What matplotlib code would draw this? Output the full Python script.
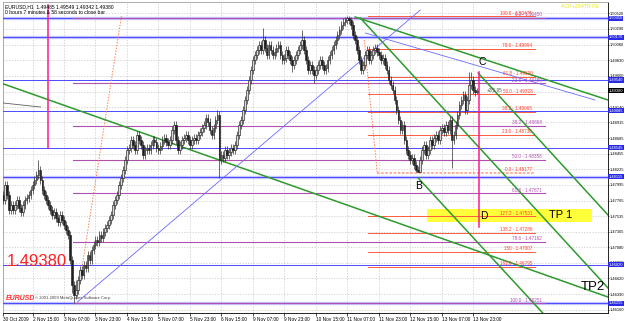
import matplotlib
matplotlib.use("Agg")
import matplotlib.pyplot as plt
from matplotlib.patches import Rectangle
import matplotlib.transforms as mtransforms

plt.rcParams['font.family'] = ['Liberation Sans', 'DejaVu Sans']

# ---------------- data ----------------
symbol_info = "EURUSD,H1  1.49485 1.49549 1.49342 1.49380"
timer_info = "0 hours 7 minutes & 58 seconds to close bar"
current_price = 1.49380
pip_note = ("+2(1.95", 246.0, 1.49392)

first_open = 1.4785
closes = [
 1.4777, 1.4799, 1.4785, 1.4763, 1.4770,
 1.4763, 1.4770, 1.4777, 1.4766, 1.4760, 1.4770, 1.4777, 1.4780, 1.4785, 1.4792,
 1.4799, 1.4807, 1.4814, 1.4822, 1.4807, 1.4792, 1.4785, 1.4777,
 1.4770, 1.4763, 1.4755, 1.4760, 1.4751, 1.4745, 1.4755, 1.4748, 1.4741, 1.4733, 1.4726,
 1.4689, 1.4652, 1.4638, 1.4645,
 1.4660, 1.4674, 1.4667, 1.4682, 1.4677, 1.4696, 1.4689,
 1.4704, 1.4711, 1.4719, 1.4716, 1.4726, 1.4722, 1.4730, 1.4736, 1.4741, 1.4748,
 1.4755, 1.4770, 1.4777, 1.4785, 1.4799, 1.4810, 1.4822, 1.4836, 1.4851, 1.4854,
 1.4866, 1.4858, 1.4851, 1.4873, 1.4866, 1.4858, 1.4844, 1.4851, 1.4854, 1.4851,
 1.4858, 1.4866, 1.4863, 1.4854, 1.4851, 1.4857, 1.4866, 1.4869, 1.4863, 1.4858, 1.4866,
 1.4880, 1.4888, 1.4866, 1.4851, 1.4858, 1.4866, 1.4869, 1.4873, 1.4866, 1.4858, 1.4866, 1.4869, 1.4866, 1.4873,
 1.4877, 1.4883, 1.4888, 1.4898, 1.4892, 1.4880, 1.4873, 1.4883, 1.4895, 1.4903,
 1.4836, 1.4844, 1.4839, 1.4851, 1.4844, 1.4848, 1.4854, 1.4851, 1.4858,
 1.4873, 1.4888, 1.4895, 1.4910, 1.4925, 1.4939, 1.4954, 1.4969, 1.4983, 1.4991, 1.4998,
 1.5006, 1.4998, 1.5013, 1.5001, 1.4991, 1.5006, 1.4998, 1.4991, 1.4995, 1.5001,
 1.5006, 1.4991, 1.4983, 1.4986, 1.4998, 1.4991, 1.4983, 1.4976, 1.4983, 1.4991,
 1.4998, 1.5006, 1.5013, 1.4998, 1.4983, 1.4969, 1.4976, 1.4969, 1.4961, 1.4969,
 1.4976, 1.4983, 1.4976, 1.4969, 1.4972, 1.4983, 1.4991, 1.4998, 1.5006, 1.5013,
 1.5020, 1.5028, 1.5035, 1.5039, 1.5042, 1.5045, 1.5042, 1.5035,
 1.5020, 1.5013, 1.4998, 1.4983, 1.4969, 1.4976, 1.4991, 1.4998, 1.4983, 1.4991, 1.4998, 1.5001,
 1.4995, 1.4991, 1.4983, 1.4986, 1.4976, 1.4969, 1.4954, 1.4947, 1.4939, 1.4925,
 1.4910, 1.4895, 1.4880, 1.4888, 1.4866, 1.4851, 1.4844, 1.4836, 1.4839, 1.4829, 1.4822, 1.4819,
 1.4836, 1.4851, 1.4858, 1.4844, 1.4851, 1.4866, 1.4858, 1.4869, 1.4873, 1.4866, 1.4880,
 1.4883, 1.4877, 1.4888, 1.4880, 1.4895, 1.4866, 1.4873, 1.4888,
 1.4903, 1.4917, 1.4925, 1.4932, 1.4910, 1.4925, 1.4947, 1.4954, 1.4939, 1.4936, 1.4938,
]
highs = [
 1.4791, 1.4805, 1.4805, 1.4791, 1.4776,
 1.4776, 1.4776, 1.4783, 1.4783, 1.4772, 1.4776, 1.4783, 1.4786, 1.4791, 1.4798,
 1.4805, 1.4813, 1.4820, 1.4836, 1.4828, 1.4813, 1.4798, 1.4791,
 1.4783, 1.4776, 1.4769, 1.4766, 1.4766, 1.4757, 1.4761, 1.4761, 1.4754, 1.4747, 1.4739,
 1.4732, 1.4695, 1.4658, 1.4660,
 1.4666, 1.4680, 1.4680, 1.4688, 1.4688, 1.4702, 1.4702,
 1.4710, 1.4717, 1.4725, 1.4725, 1.4732, 1.4732, 1.4736, 1.4742, 1.4747, 1.4754,
 1.4761, 1.4776, 1.4783, 1.4791, 1.4805, 1.4816, 1.4828, 1.4842, 1.4857, 1.4860,
 1.4872, 1.4872, 1.4864, 1.4879, 1.4879, 1.4872, 1.4864, 1.4857, 1.4860, 1.4860,
 1.4864, 1.4872, 1.4872, 1.4869, 1.4860, 1.4863, 1.4872, 1.4875, 1.4875, 1.4869, 1.4872,
 1.4886, 1.4894, 1.4894, 1.4872, 1.4864, 1.4872, 1.4875, 1.4879, 1.4879, 1.4872, 1.4872, 1.4875, 1.4875, 1.4879,
 1.4883, 1.4889, 1.4894, 1.4904, 1.4904, 1.4898, 1.4886, 1.4889, 1.4901, 1.4910,
 1.4909, 1.4850, 1.4850, 1.4857, 1.4857, 1.4854, 1.4860, 1.4860, 1.4864,
 1.4879, 1.4894, 1.4901, 1.4916, 1.4931, 1.4945, 1.4960, 1.4975, 1.4989, 1.4997, 1.5004,
 1.5012, 1.5012, 1.5030, 1.5019, 1.5007, 1.5012, 1.5012, 1.5004, 1.5001, 1.5007,
 1.5012, 1.5012, 1.4997, 1.4992, 1.5004, 1.5004, 1.4997, 1.4989, 1.4989, 1.4997,
 1.5004, 1.5012, 1.5028, 1.5019, 1.5004, 1.4989, 1.4982, 1.4982, 1.4975, 1.4975,
 1.4982, 1.4989, 1.4989, 1.4982, 1.4978, 1.4989, 1.4997, 1.5004, 1.5012, 1.5019,
 1.5026, 1.5034, 1.5041, 1.5045, 1.5046, 1.5048, 1.5048, 1.5046,
 1.5041, 1.5026, 1.5019, 1.5004, 1.4989, 1.4982, 1.4997, 1.5004, 1.5004, 1.4997, 1.5004, 1.5007,
 1.5007, 1.5001, 1.4997, 1.4992, 1.4992, 1.4982, 1.4975, 1.4960, 1.4953, 1.4945,
 1.4931, 1.4916, 1.4901, 1.4894, 1.4894, 1.4872, 1.4857, 1.4850, 1.4845, 1.4845, 1.4835, 1.4828,
 1.4842, 1.4857, 1.4864, 1.4864, 1.4857, 1.4872, 1.4872, 1.4875, 1.4879, 1.4879, 1.4886,
 1.4889, 1.4889, 1.4894, 1.4894, 1.4901, 1.4901, 1.4879, 1.4894,
 1.4909, 1.4923, 1.4931, 1.4938, 1.4938, 1.4931, 1.4966, 1.4966, 1.4960, 1.4945, 1.4942,
]
lows = [
 1.4771, 1.4771, 1.4779, 1.4757, 1.4757,
 1.4757, 1.4757, 1.4764, 1.4760, 1.4754, 1.4754, 1.4764, 1.4771, 1.4774, 1.4779,
 1.4786, 1.4793, 1.4801, 1.4808, 1.4801, 1.4786, 1.4779, 1.4771,
 1.4764, 1.4757, 1.4749, 1.4749, 1.4745, 1.4739, 1.4739, 1.4742, 1.4735, 1.4727, 1.4720,
 1.4683, 1.4640, 1.4626, 1.4632,
 1.4639, 1.4654, 1.4661, 1.4661, 1.4671, 1.4671, 1.4683,
 1.4683, 1.4698, 1.4705, 1.4710, 1.4710, 1.4716, 1.4716, 1.4724, 1.4730, 1.4735,
 1.4742, 1.4749, 1.4764, 1.4771, 1.4779, 1.4793, 1.4804, 1.4816, 1.4830, 1.4845,
 1.4848, 1.4852, 1.4845, 1.4845, 1.4860, 1.4852, 1.4838, 1.4838, 1.4845, 1.4845,
 1.4845, 1.4852, 1.4857, 1.4848, 1.4845, 1.4845, 1.4851, 1.4860, 1.4857, 1.4852, 1.4852,
 1.4860, 1.4874, 1.4860, 1.4845, 1.4845, 1.4852, 1.4860, 1.4863, 1.4860, 1.4852, 1.4852, 1.4860, 1.4860, 1.4860,
 1.4867, 1.4871, 1.4877, 1.4882, 1.4886, 1.4874, 1.4867, 1.4867, 1.4877, 1.4889,
 1.4810, 1.4830, 1.4833, 1.4833, 1.4838, 1.4838, 1.4842, 1.4845, 1.4845,
 1.4852, 1.4867, 1.4882, 1.4889, 1.4904, 1.4919, 1.4933, 1.4948, 1.4963, 1.4977, 1.4985,
 1.4992, 1.4992, 1.4992, 1.4995, 1.4985, 1.4985, 1.4992, 1.4985, 1.4985, 1.4989,
 1.4995, 1.4985, 1.4977, 1.4977, 1.4980, 1.4985, 1.4977, 1.4965, 1.4970, 1.4977,
 1.4985, 1.4992, 1.5000, 1.4992, 1.4977, 1.4963, 1.4963, 1.4963, 1.4950, 1.4955,
 1.4963, 1.4970, 1.4970, 1.4963, 1.4963, 1.4966, 1.4977, 1.4985, 1.4992, 1.5000,
 1.5007, 1.5014, 1.5022, 1.5029, 1.5033, 1.5036, 1.5036, 1.5029,
 1.5014, 1.5007, 1.4992, 1.4977, 1.4963, 1.4963, 1.4970, 1.4985, 1.4977, 1.4977, 1.4985, 1.4992,
 1.4989, 1.4985, 1.4977, 1.4977, 1.4970, 1.4963, 1.4948, 1.4941, 1.4933, 1.4919,
 1.4904, 1.4889, 1.4874, 1.4874, 1.4860, 1.4845, 1.4838, 1.4830, 1.4830, 1.4823, 1.4818, 1.4818,
 1.4818, 1.4830, 1.4845, 1.4838, 1.4838, 1.4845, 1.4852, 1.4852, 1.4863, 1.4860, 1.4860,
 1.4874, 1.4871, 1.4871, 1.4874, 1.4874, 1.4824, 1.4860, 1.4867,
 1.4882, 1.4897, 1.4911, 1.4919, 1.4904, 1.4904, 1.4919, 1.4941, 1.4933, 1.4930, 1.4934,
]

time_labels = ["30 Oct 2009", "2 Nov 15:00", "3 Nov 07:00", "3 Nov 23:00", "4 Nov 15:00",
               "5 Nov 07:00", "5 Nov 23:00", "6 Nov 15:00", "9 Nov 07:00", "9 Nov 23:00",
               "10 Nov 15:00", "11 Nov 07:00", "11 Nov 23:00", "12 Nov 15:00",
               "13 Nov 07:00", "13 Nov 23:00"]
time_label_bars = [0, 15, 31, 47, 63, 79, 95, 111, 127, 143, 159, 175, 191, 207, 223, 239]

price_ticks = [1.50520, 1.50290, 1.50060, 1.49830, 1.49600, 1.49370, 1.49140, 1.48915,
               1.48685, 1.48455, 1.48225, 1.47995, 1.47765, 1.47535, 1.47305, 1.47080,
               1.46850, 1.46620, 1.46390, 1.46160]

# horizontal support / resistance levels (blue)
hlines_blue = [1.50450, 1.50170, 1.49540, 1.49085, 1.48545, 1.48115, 1.46820, 1.46255]
hlines_blue_thick = [True, True, False, False, False, True, False, True]

# Fibonacci retracement 1 (purple)
fib1_levels = ["0.0", "23.6", "38.2", "50.0", "61.8", "78.6", "100.0"]
fib1_prices = [1.50450, 1.49489, 1.48868, 1.48358, 1.47871, 1.47162, 1.46251]
fib1_bars = [35.8, 275.5]
fib1_anchor_bars = [37.8, 60.2]
fib1_anchor_prices = [1.46346, 1.50481]

# Fibonacci retracement 2 / expansion (red)
fib2_levels = ["100.0", "78.6", "61.8", "50.0", "38.2", "23.6", "0.0", "127.2", "138.2", "150", "161.8"]
fib2_prices = [1.50475, 1.49994, 1.49590, 1.49328, 1.49065, 1.48730, 1.48177, 1.47531, 1.47286, 1.47007, 1.46795]
fib2_bars = [185.6, 270.5]
fib2_anchor_bars = [183.6, 190.2]
fib2_anchor_prices = [1.50128, 1.48177]

# trend lines: (bar0, price0, bar1, price1)
green_lines = [
    (0.27, 1.49481, 307.5, 1.46346),   # long falling support
    (179.0, 1.50466, 307.5, 1.49245),  # upper channel
    (181.6, 1.50452, 307.5, 1.46479),  # steep channel from the high
    (241.5, 1.49642, 307.5, 1.47553),  # steep channel from C
    (211.0, 1.48097, 278.1, 1.45993),  # steep channel from B
]
blue_lines = [
    (37.8, 1.46273, 212.1, 1.50569),
    (184.1, 1.50231, 300.9, 1.49245),
]
ma_line = (0.0, 1.49201, 19.1, 1.49142)

magenta_vlines = [(23.1, 1.48539, 1.50643), (242.0, 1.47376, 1.49657)]

tp_zone = (215.6, 299.4, 1.47450, 1.47641)

wave_labels = [("C", 243.5, 1.49804), ("B", 211.0, 1.47980), ("D", 244.6, 1.47538)]
tp_labels = [("TP 1", 283.2, 1.47553, 8), ("TP2", 299.9, 1.46493, 9.5)]

# ---------------- figure ----------------
W, H = 625, 321
fig = plt.figure(figsize=(W / 100, H / 100), dpi=100)
fig.patch.set_facecolor('white')
ax = fig.add_axes([3 / W, 8 / H, 605 / W, 311 / H])
ax.set_facecolor('white')
ax.set_xlim(0.27, 307.5)
ax.set_ylim(1.46111, 1.50687)

# grid / ticks
ax.set_xticks(time_label_bars)
ax.set_xticklabels(time_labels, ha='left')
ax.set_yticks(price_ticks)
ax.set_yticklabels([f"{p:.5f}" for p in price_ticks])
ax.yaxis.tick_right()
ax.tick_params(axis='x', labelsize=3.4, pad=1.2, length=2, width=0.5, colors='black')
ax.tick_params(axis='y', labelsize=2.9, pad=0.3, length=1.0, width=0.5, colors='black')
ax.grid(True, color='#c8c8c8', linestyle=(0, (2, 2)), linewidth=0.5)
ax.set_axisbelow(True)
for s in ['left', 'top']:
    ax.spines[s].set_color('#a0a0a0')
    ax.spines[s].set_linewidth(0.6)
for s in ['right', 'bottom']:
    ax.spines[s].set_color('black')
    ax.spines[s].set_linewidth(0.6)

# blue horizontal lines
for p, thick in zip(hlines_blue, hlines_blue_thick):
    if thick:
        ax.axhline(p, color='#c4c4ff', lw=2.4, zorder=2)
    ax.axhline(p, color='#4a4aff', lw=0.7, zorder=3)

# fib 1
for lvl, p in zip(fib1_levels, fib1_prices):
    ax.plot(fib1_bars, [p, p], color='#b050b0', lw=0.8, zorder=3)
    ax.text(fib1_bars[1] - 1.5, p + 0.00012, f"{lvl} - {p:.5f}", color='#b050b0',
            fontsize=3.3, ha='right', va='bottom', zorder=6)
ax.plot(fib1_anchor_bars, fib1_anchor_prices, color='#ff7f50', lw=0.7,
        linestyle=(0, (1.5, 1.5)), zorder=3)

# fib 2
for lvl, p in zip(fib2_levels, fib2_prices):
    if lvl == "0.0":
        ax.plot([fib2_anchor_bars[1], fib2_bars[1]], [p, p], color='#ffa080', lw=1.2,
                linestyle=(0, (1.5, 1.0)), zorder=3)
    else:
        ax.plot(fib2_bars, [p, p], color='#ff5a3c', lw=0.7, zorder=3)
    ax.text(fib2_bars[1] - 1.5, p + 0.00012, f"{lvl} - {p:.5f}", color='#ff3c28',
            fontsize=3.3, ha='right', va='bottom', zorder=6)
ax.plot(fib2_anchor_bars, fib2_anchor_prices, color='#ff7f50', lw=0.7,
        linestyle=(0, (1.5, 1.5)), zorder=3)

# TP zone
x0, x1, y0, y1 = tp_zone
ax.add_patch(Rectangle((x0, y0), x1 - x0, y1 - y0, facecolor='#ffff3a', edgecolor='none', zorder=2.5))

# trend lines
for b0, p0, b1, p1 in green_lines:
    ax.plot([b0, b1], [p0, p1], color='#2e9a2e', lw=1.1, zorder=4)
for b0, p0, b1, p1 in blue_lines:
    ax.plot([b0, b1], [p0, p1], color='#6a6aff', lw=0.6, zorder=4)
ax.plot([ma_line[0], ma_line[2]], [ma_line[1], ma_line[3]], color='#606060', lw=0.6, zorder=4)

for b, p0, p1 in magenta_vlines:
    ax.plot([b, b], [p0, p1], color='#ff1a8c', lw=1.1, zorder=4)

# candles
opens = [first_open] + closes[:-1]
for i, (o, h, l, c) in enumerate(zip(opens, highs, lows, closes)):
    ax.plot([i, i], [l, h], color='#303030', lw=0.5, zorder=5, solid_capstyle='butt')
    lo, hi = min(o, c), max(o, c)
    if hi - lo < 0.00004:
        hi = lo + 0.00004
    face = '#d8d8d8' if c >= o else '#202020'
    ax.add_patch(Rectangle((i - 0.42, lo), 0.84, hi - lo, facecolor=face,
                           edgecolor='#202020', lw=0.45, zorder=5.5))

# wave / target labels
for t, b, p in wave_labels:
    ax.text(b, p, t, fontsize=7.5, color='black', ha='center', va='center', zorder=7)
for t, b, p, fs in tp_labels:
    ax.text(b, p, t, fontsize=fs, color='black', ha='center', va='center', zorder=7)
ax.text(pip_note[1], pip_note[2], pip_note[0], fontsize=3.3, color='#505050',
        ha='left', va='center', zorder=7)

# highlighted price labels on the right axis
trans = mtransforms.blended_transform_factory(ax.transAxes, ax.transData)
for p in hlines_blue:
    ax.text(1.0012, p, f"{p:.5f}", transform=trans, fontsize=2.9, color='white',
            ha='left', va='center', clip_on=False, zorder=10,
            bbox=dict(boxstyle='square,pad=0.15', fc='#2a2ae6', ec='none'))
ax.text(1.0012, current_price, f"{current_price:.5f}", transform=trans, fontsize=2.9,
        color='white', ha='left', va='center', clip_on=False, zorder=10,
        bbox=dict(boxstyle='square,pad=0.15', fc='black', ec='none'))

# info texts
ax.text(0.003, 0.993, symbol_info, transform=ax.transAxes, fontsize=3.6, ha='left', va='top', zorder=8)
ax.text(0.003, 0.975, timer_info, transform=ax.transAxes, fontsize=3.6, ha='left', va='top', zorder=8)
ax.text(0.985, 0.993, "ACP+20ATR FE", transform=ax.transAxes, fontsize=3.8, color='#e8e800',
        ha='right', va='top', zorder=8)
ax.text(0.007, 0.164, f"{current_price:.5f}", transform=ax.transAxes, fontsize=12,
        color='#ff2020', ha='left', va='center', zorder=8)
ax.text(0.004, 0.048, "EURUSD", transform=ax.transAxes, fontsize=5, color='#ff3030',
        fontstyle='italic', fontweight='bold', ha='left', va='center', zorder=8)
ax.text(0.053, 0.048, "\u00a9 2001-2009 MetaQuotes Software Corp.", transform=ax.transAxes,
        fontsize=3.0, color='#404040', ha='left', va='center', zorder=8)

fig.savefig("out.png", dpi=100, facecolor='white')
